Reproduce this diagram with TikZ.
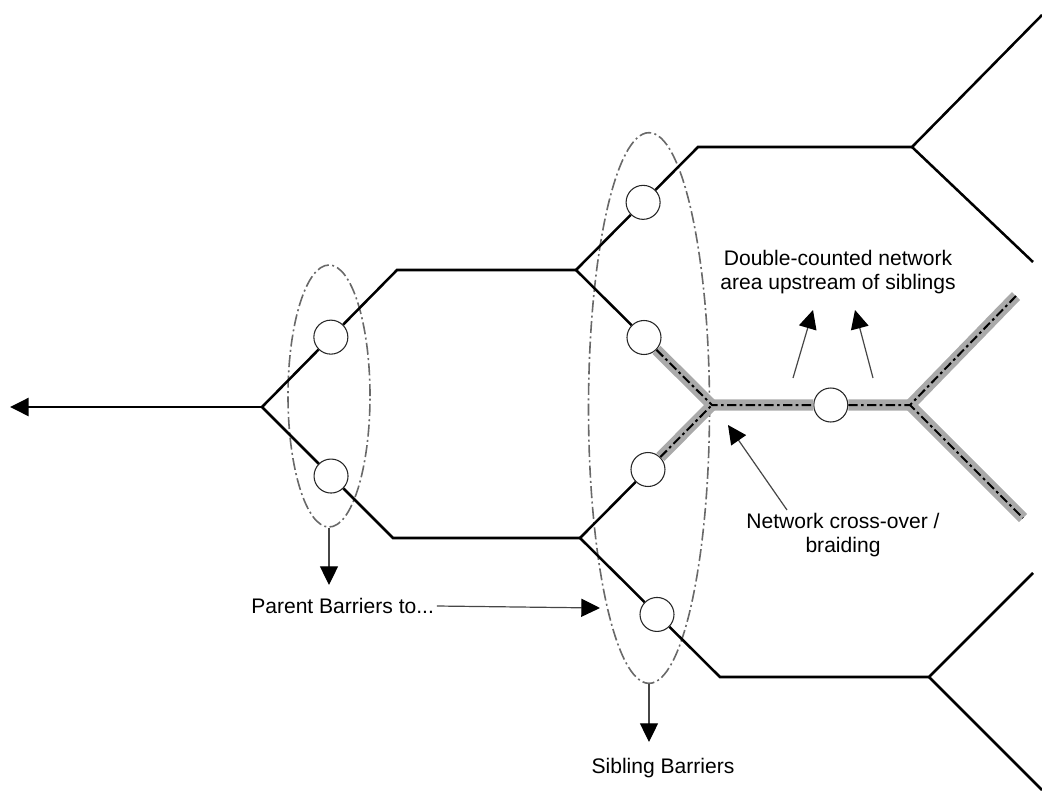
\documentclass[tikz,border=0pt]{standalone}
\usepackage{fontspec}
\setmainfont{Liberation Sans}
\usetikzlibrary{positioning, arrows.meta, calc, shapes.geometric}
\definecolor{BarGray}{RGB}{105,105,105}
\definecolor{HiGray}{RGB}{170,170,170}
\definecolor{NoteGray}{RGB}{70,70,70}
\tikzset{
  reach/.style={line width=1.9pt, black},
  barrier/.style={circle, draw=black!85, line width=0.8pt, fill=white,
    minimum size=25.5pt, inner sep=0pt},
  group/.style={ellipse, draw=BarGray, line width=1.2pt, inner sep=0pt,
    dash pattern=on 9pt off 2.5pt on 1.5pt off 2.5pt},
  hilite/.style={line width=8.5pt, HiGray},
  braid/.style={line width=1.5pt, black, dash pattern=on 7pt off 2.5pt on 2pt off 2.5pt},
  head/.style={-{Triangle[length=14pt, width=13.5pt, color=black]}},
  note/.style={line width=0.9pt, NoteGray, head},
  lbl/.style={font=\fontsize{15.8}{18}\selectfont, align=center, inner sep=0pt},
}
\begin{document}
\begin{tikzpicture}[x=0.75pt, y=-0.75pt]
    \useasboundingbox (0,0) rectangle (1042,796);
    % junctions and reach ends
    \coordinate (out) at (10,407);   \coordinate (J0) at (262,407);
    \coordinate (pU) at (397,270);   \coordinate (pL) at (393,538);
    \coordinate (J1) at (576,270);   \coordinate (J2) at (580,538);
    \coordinate (k1) at (698,147);   \coordinate (J3) at (912,147);
    \coordinate (t1) at (1042,15);   \coordinate (t2) at (1033,262);
    \coordinate (X) at (712,405);    \coordinate (J4) at (910,405);
    \coordinate (t3) at (1016,296);  \coordinate (t4) at (1023,518);
    \coordinate (k2) at (720,677);   \coordinate (J5) at (929,677);
    \coordinate (t5) at (1033,573);  \coordinate (t6) at (1042,790);
    % barrier groups
    \node[group, minimum width=61.5pt, minimum height=196.5pt] (parents) at (329,396) {};
    \node[group, minimum width=90.75pt, minimum height=413pt] (siblings) at (649,408) {};
    % barriers
    \node[barrier] (b1) at ($(J0)!0.51!(pU)$) {};
    \node[barrier] (b2) at ($(J0)!0.527!(pL)$) {};
    \node[barrier] (s1) at ($(J1)!0.55!(k1)$) {};
    \node[barrier] (s2) at ($(J1)!0.5!(X)$) {};
    \node[barrier] (s3) at ($(J2)!0.515!(X)$) {};
    \node[barrier] (s4) at ($(J2)!0.55!(k2)$) {};
    \node[barrier] (b5) at ($(X)!0.6!(J4)$) {};
    % double-counted area
    \draw[hilite] (s2) -- (X) -- (b5);
    \draw[hilite] (s3) -- (X);
    \draw[hilite] (b5) -- (J4);
    \draw[hilite] (t3) -- (J4) -- (t4);
    \draw[braid] (s2) -- (X) -- (b5);
    \draw[braid] (s3) -- (X);
    \draw[braid] (b5) -- (J4);
    \draw[braid] (t3) -- (J4) -- (t4);
    % network
    \draw[reach, head] (J0) -- (out);
    \draw[reach] (J0) -- (b1) (b1) -- (pU) -- (J1);
    \draw[reach] (J0) -- (b2) (b2) -- (pL) -- (J2);
    \draw[reach] (J1) -- (s1) (s1) -- (k1) -- (J3) -- (t1);
    \draw[reach] (J3) -- (t2);
    \draw[reach] (J1) -- (s2);
    \draw[reach] (J2) -- (s3);
    \draw[reach] (J2) -- (s4) (s4) -- (k2) -- (J5) -- (t5);
    \draw[reach] (J5) -- (t6);
    % labels
    \node[lbl, anchor=west] (ptxt) at (251,606) {Parent Barriers to...};
    \node[lbl] (stxt) at (663,768) {Sibling Barriers};
    \node[lbl] (dtxt) at (838,272) {Double-counted network\\area upstream of siblings};
    \node[lbl] (ctxt) at (843,535) {Network cross-over /\\braiding};
    \coordinate (pdown) at (329,585);  \coordinate (sdown) at (649,742);
    \coordinate (ptip) at (600,608);
    \coordinate (u1) at (793,378);     \coordinate (u1e) at (813,310);
    \coordinate (u2) at (873,378);     \coordinate (u2e) at (855,310);
    \coordinate (c1) at (787,510);     \coordinate (c1e) at (728,425);
    \draw[note] (parents.south) -- (pdown);
    \draw[note] (siblings.south) -- (sdown);
    \draw[note] (ptxt.east) ++(2pt,0) -- (ptip);
    \draw[note] (u1) -- (u1e);
    \draw[note] (u2) -- (u2e);
    \draw[note] (c1) -- (c1e);
\end{tikzpicture}
\end{document}
